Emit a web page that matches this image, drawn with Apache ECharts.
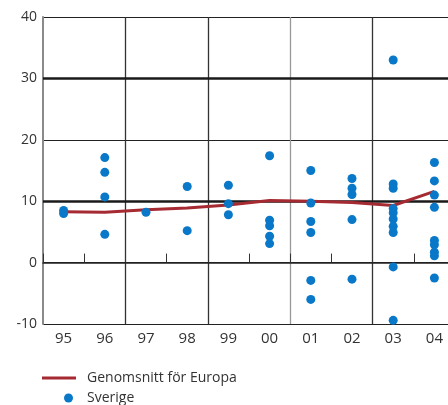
<!DOCTYPE html>
<html><head><meta charset="utf-8">
<script src="https://cdn.jsdelivr.net/npm/echarts@6/dist/echarts.min.js"></script>
<style>html,body{margin:0;padding:0;background:#fff;overflow:hidden}#c{width:455px;height:405px}</style>
</head><body><div id="c"></div>
<script>
const years = ['95','96','97','98','99','00','01','02','03','04'];
const yTicks = [-10, 0, 10, 20, 30, 40];
const europe = [8.3, 8.2, 8.6, 8.9, 9.4, 10.1, 10.0, 9.8, 9.3, 11.6];
const sverige = [
  [8.5, 8.0],
  [17.1, 14.7, 10.7, 4.6],
  [8.2],
  [12.4, 5.2],
  [12.6, 9.6, 7.8],
  [17.4, 6.9, 6.0, 4.3, 3.1],
  [15.0, 9.7, 6.7, 4.9, -2.9, -6.0],
  [13.7, 12.1, 11.1, 7.0, -2.7],
  [33.0, 12.8, 12.1, 8.8, 8.1, 7.1, 5.9, 4.9, -0.7, -9.4],
  [16.3, 13.3, 11.0, 9.0, 3.6, 2.9, 1.7, 1.1, -2.5]
];
const thickLines = [10, 30];
const nameEurope = 'Genomsnitt för Europa';
const nameSverige = 'Sverige';

const scatterData = [];
sverige.forEach((vals, i) => vals.forEach(v => scatterData.push([years[i], v])));

const font = "'Open Sans', 'Noto Sans', sans-serif";
const chart = echarts.init(document.getElementById('c'), null, {renderer: 'canvas'});
chart.setOption({
  animation: false,
  textStyle: {fontFamily: font},
  grid: {left: 43, top: 17, right: 0, bottom: 81, containLabel: false},
  xAxis: {
    type: 'category', data: years, boundaryGap: true,
    axisLine: {lineStyle: {color: '#222', width: 1.5}},
    axisTick: {show: true, inside: true, length: 9, interval: 0, lineStyle: {color: '#333', width: 1}},
    axisLabel: {color: '#333', fontSize: 15, margin: 7, fontFamily: font, interval: 0},
    splitLine: {show: true, interval: function (i) { return i === 2 || i === 4 || i === 6 || i === 8; },
      lineStyle: {color: ['#333', '#333', '#999', '#333'], width: 1.3}}
  },
  yAxis: {
    type: 'value', min: yTicks[0], max: yTicks[yTicks.length - 1], interval: 10,
    axisLine: {show: true, lineStyle: {color: '#8a8a8a', width: 2}},
    axisTick: {show: false},
    axisLabel: {color: '#333', fontSize: 14, margin: 6, fontFamily: font},
    splitLine: {show: true, lineStyle: {color: '#222', width: 1.2}}
  },
  legend: [
    {data: [{name: nameEurope, icon: 'rect'}], left: 42, top: 370, padding: 0, orient: 'vertical', itemWidth: 34, itemHeight: 3,
     textStyle: {fontSize: 14, color: '#333', lineHeight: 16, fontFamily: font, padding: [0, 0, 0, 6]}},
    {data: [{name: nameSverige, icon: 'circle'}], left: 64, top: 390, padding: 0, orient: 'vertical', itemWidth: 9, itemHeight: 9,
     textStyle: {fontSize: 14, color: '#333', lineHeight: 16, fontFamily: font, padding: [0, 0, 0, 9]}}
  ],
  series: [
    {
      name: nameEurope, type: 'line', data: europe, symbol: 'none', z: 3,
      lineStyle: {color: '#a52a31', width: 3}, itemStyle: {color: '#a52a31'},
      markLine: {silent: true, symbol: 'none', label: {show: false}, z: 1,
        lineStyle: {color: '#1a1a1a', width: 2.6, type: 'solid'},
        data: thickLines.map(v => ({yAxis: v}))}
    },
    {
      name: nameSverige, type: 'scatter', data: scatterData, symbol: 'circle', symbolSize: 9, z: 4,
      itemStyle: {color: '#0a78c8', opacity: 1}
    }
  ]
});
</script></body></html>
